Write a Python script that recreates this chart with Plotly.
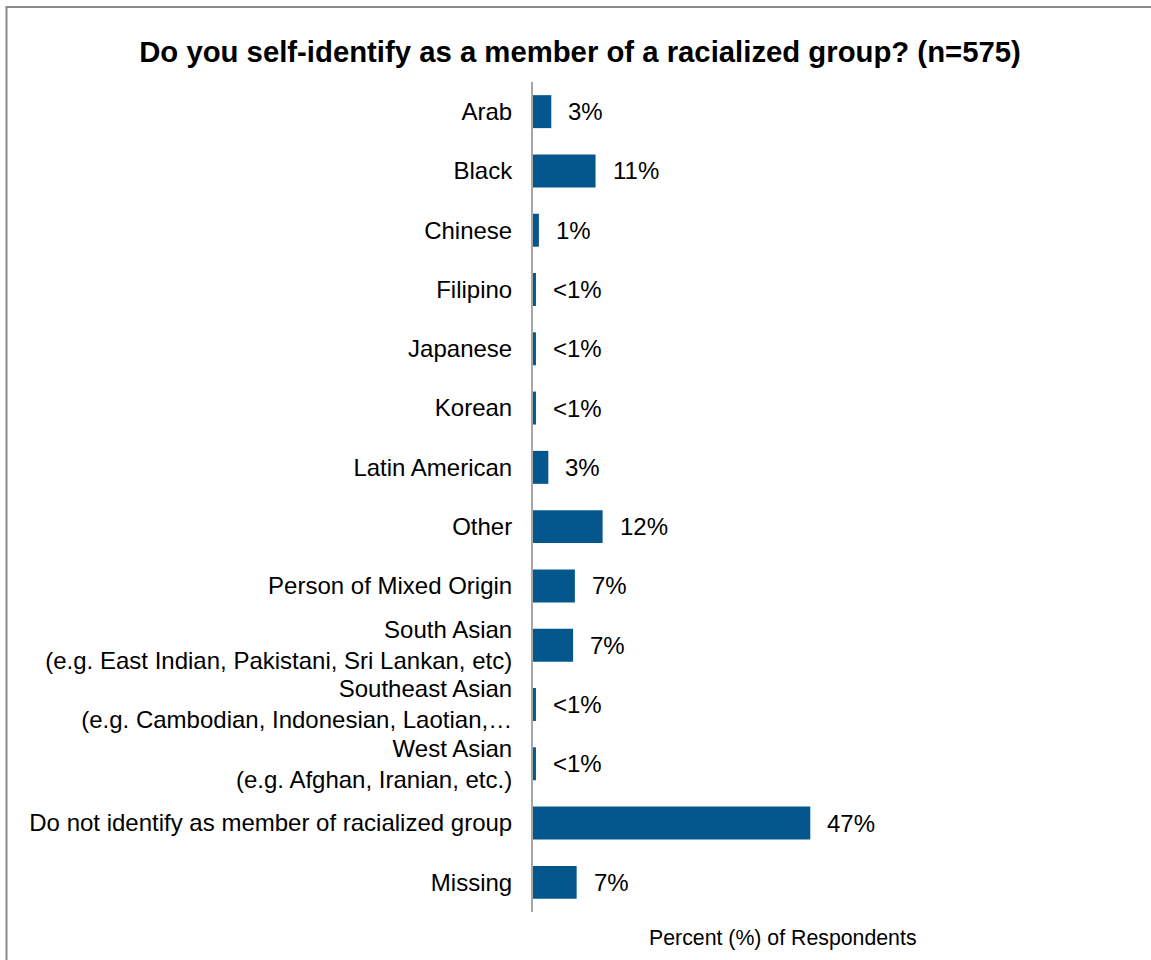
import plotly.graph_objects as go

# Survey responses, percent of respondents (n=575)
categories = [
    "Arab",
    "Black",
    "Chinese",
    "Filipino",
    "Japanese",
    "Korean",
    "Latin American",
    "Other",
    "Person of Mixed Origin",
    "South Asian<br>(e.g. East Indian, Pakistani, Sri Lankan, etc)",
    "Southeast Asian<br>(e.g. Cambodian, Indonesian, Laotian,…",
    "West Asian<br>(e.g. Afghan, Iranian, etc.)",
    "Do not identify as member of racialized group",
    "Missing",
]
percent = [3.1, 10.6, 1.0, 0.5, 0.5, 0.5, 2.6, 11.8, 7.1, 6.8, 0.5, 0.5, 47.0, 7.4]

title_text = "Do you self-identify as a member of a racialized group? (n=575)"
x_title_text = "Percent (%) of Respondents"

BAR_COLOR = "#04578D"
FONT = "Liberation Sans, Arial, sans-serif"


def pct_label(v):
    return "<1%" if v < 1 else f"{round(v)}%"


W, H = 1151, 960
M_L, M_R, M_T, M_B = 533, 118, 82, 48
plot_w = W - M_L - M_R
plot_h = H - M_T - M_B

# pixel -> paper coordinate helpers
px_to_xp = lambda px: (px - M_L) / plot_w
py_to_yp = lambda py: (H - M_B - py) / plot_h

fig = go.Figure(
    go.Bar(
        x=percent,
        y=categories,
        orientation="h",
        marker=dict(color=BAR_COLOR, line=dict(width=0)),
        hoverinfo="skip",
    )
)

# value labels to the right of each bar
annotations = [
    dict(
        x=v, y=c, xref="x", yref="y",
        text=pct_label(v), showarrow=False,
        xanchor="left", yanchor="middle", xshift=15,
        font=dict(family=FONT, size=24, color="#000000"),
    )
    for c, v in zip(categories, percent)
]

# axis caption below the plot
annotations.append(
    dict(
        x=0.5, y=py_to_yp(938), xref="paper", yref="paper",
        text=x_title_text, showarrow=False,
        xanchor="center", yanchor="middle",
        font=dict(family=FONT, size=21.3, color="#000000"),
    )
)

# outer frame (left and top edges of the chart area)
frame_color = "#8A8A8A"
shapes = [
    dict(type="line", xref="paper", yref="paper",
         x0=px_to_xp(6.5), x1=px_to_xp(6.5), y0=py_to_yp(7), y1=py_to_yp(H + 5),
         line=dict(color=frame_color, width=2)),
    dict(type="line", xref="paper", yref="paper",
         x0=px_to_xp(5.5), x1=px_to_xp(W + 5), y0=py_to_yp(7), y1=py_to_yp(7),
         line=dict(color=frame_color, width=2)),
]

fig.update_layout(
    template="none",
    width=W,
    height=H,
    margin=dict(l=M_L, r=M_R, t=M_T, b=M_B, autoexpand=False),
    paper_bgcolor="#FFFFFF",
    plot_bgcolor="#FFFFFF",
    bargap=0.444,
    showlegend=False,
    title=dict(
        text=f"<b>{title_text}</b>",
        x=580 / W, xanchor="center",
        y=1 - 52 / H, yanchor="middle", yref="container",
        font=dict(family=FONT, size=29.3, color="#000000"),
    ),
    xaxis=dict(
        range=[0, plot_w / 5.9],
        showgrid=False, zeroline=False, showline=False,
        showticklabels=False, ticks="", automargin=False,
        fixedrange=True,
    ),
    yaxis=dict(
        autorange="reversed",
        showgrid=False, zeroline=False,
        showline=True, linecolor="#A6A6A6", linewidth=2,
        ticks="", ticklabelstandoff=14, automargin=False,
        tickfont=dict(family=FONT, size=24, color="#000000"),
    ),
    annotations=annotations,
    shapes=shapes,
)

fig.write_html("out.html")
